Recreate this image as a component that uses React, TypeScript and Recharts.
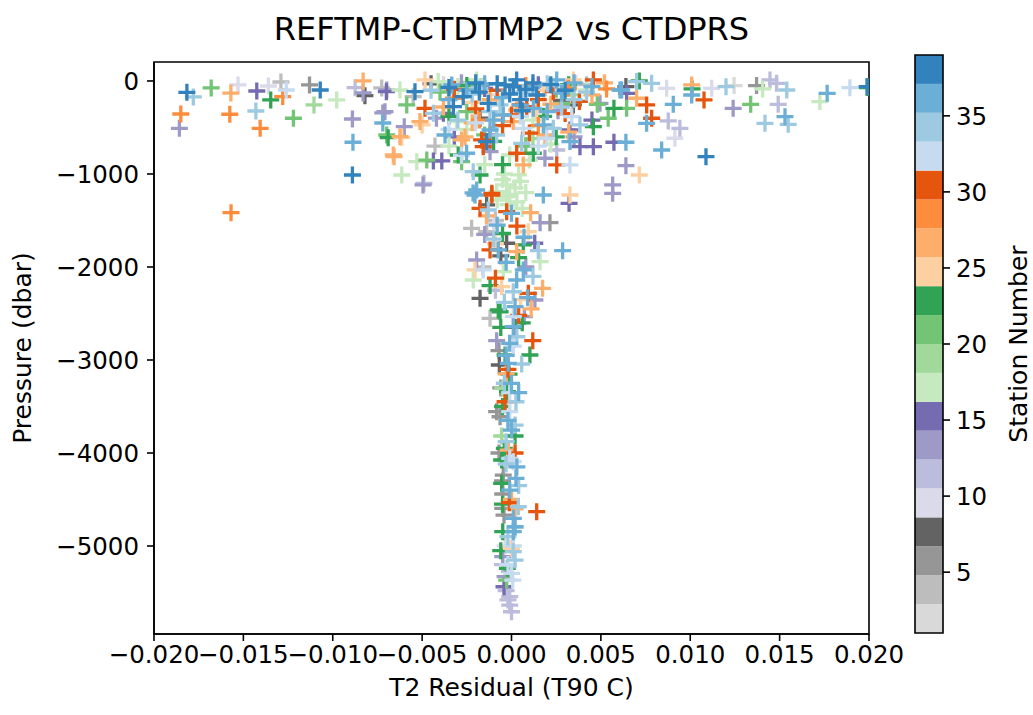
import React from 'react';
import { ScatterChart, Scatter, XAxis, YAxis, ReferenceArea, ComposedChart } from 'recharts';

// tab20c reversed colormap, station number range of the colour bar
const CMAP = ['#d9d9d9','#bdbdbd','#969696','#636363','#dadaeb','#bcbddc','#9e9ac8','#756bb1','#c7e9c0','#a1d99b','#74c476','#31a354','#fdd0a2','#fdae6b','#fd8d3c','#e6550d','#c6dbef','#9ecae1','#6baed6','#3182bd'];
const STATION_MIN = 1;
const STATION_MAX = 39;
const CB_TICKS = [5, 10, 15, 20, 25, 30, 35];
const X_TICKS = [-0.02, -0.015, -0.01, -0.005, 0, 0.005, 0.01, 0.015, 0.02];
const Y_TICKS = [0, -1000, -2000, -3000, -4000, -5000];

// [T2 residual (T90 C), pressure (dbar)] per station
const st02 = [[0.01245,-50],[0.0036,-25],[-0.0038,-40],[-0.0008,-150]];
const st04 = [[-0.0129,-11],[-0.00726,-75],[-0.00428,-700],[-0.00223,-1584],[-0.00139,-1620],[-0.0012,-2552],[-0.0055,-169],[0.0015,-150],[-0.0009,-1500],[0.0042,-40],[-0.0016,-2000]];
const st06 = [[-0.0113,-43],[0.01371,-50],[0.00215,-1523],[-0.00083,-3556],[-0.00064,-3610],[-0.00046,-4237],[-0.00049,-4441],[-0.00049,-4595],[-0.00042,-4667],[-0.0017,-60],[-0.0007,-2900],[-0.0006,-3300],[-0.0007,-4000],[-0.0005,-4300]];
const st08 = [[-0.0082,-158],[0.0064,-60],[0.00346,-258],[-0.00176,-401],[-0.00139,-1333],[-0.00027,-1745],[-0.00176,-2337],[-0.00068,-3054],[-0.0045,-30],[0.0028,-210],[-0.0006,-1880],[0.0002,-2650]];
const st10 = [[-0.0153,-43],[-0.0136,-54],[0.00868,-79],[0.0112,-79],[0.00914,-616],[-0.00036,-5000],[-0.001,-1530]];
const st12 = [[-0.00875,-72],[0.01446,11],[0.01483,-25],[0.01492,-251],[0.00877,-430],[0.00942,-509],[0.00253,-742],[-0.0001,-5545],[-0.0001,-5635],[0,-5707],[-0.0003,-5480],[-0.0049,-1100],[-0.0009,-2250],[-0.0005,-5200],[-0.0002,-5580]];
const st13 = [[-0.01858,-509],[-0.0083,-129],[-0.0072,-344],[-0.0089,-409],[-0.006,-491],[-0.00495,-1118],[0.0124,-294],[0.0064,-911],[0.00566,-1118],[0.00566,-1208],[0.00495,-240],[0.00187,-831],[0.0016,-1523],[-0.00195,-1925],[0.00131,-2355],[0.00072,-2534],[-0.00083,-2792],[-0.00049,-5115],[-0.00036,-5330],[-0.00698,-97],[-0.00708,-330],[-0.0028,-20],[0.0026,-320],[-0.0012,-760],[-0.0042,-400],[0.0035,-600],[-0.0015,-1650],[0.0008,-2000]];
const st15 = [[-0.01425,-108],[-0.007,-115],[-0.00437,-860],[-0.0039,-860],[-0.00381,-348],[0.00644,-133],[0.00327,-527],[0.00383,-706],[0.00458,-706],[0.00573,-659],[0.00322,-1315],[-0.00042,-5438],[0.0013,-1745],[-0.0015,-80],[0.0015,-40],[-0.0032,-600],[0.0045,-420]];
const st17 = [[-0.00978,-204],[-0.00614,-1011],[-0.0053,-868],[-0.00624,-97],[-0.0041,-7],[-0.00195,11],[0.01405,-86],[0.01725,-222],[0.0042,-97],[-0.00307,-437],[-0.0001,-796],[-0.00027,-1118],[-0.00083,-1190],[-0.00027,-1244],[0.0002,-1150],[-0.0005,-1060],[0.0003,-1300],[-0.00214,-2140],[-0.00046,-2050],[0.0016,-1943],[-0.0001,-1220],[-0.0004,-1000],[0.0006,-1370],[-0.003,-60],[0.0012,-420],[-0.0025,-520],[0.001,-850],[-0.0035,-700],[0.0022,-680],[-0.0015,-900],[0.0005,-1080],[-0.0008,-1280],[0.0008,-1200],[-0.0002,-1330],[0.0004,-1010]];
const st19 = [[-0.01105,-258],[-0.00049,-3304],[-0.00055,-3817],[0.0012,-620],[-0.0026,-90],[0.0034,-150]];
const st21 = [[-0.0168,-75],[-0.0122,-401],[0.01338,-251],[0.00644,-294],[0.00541,-401],[-0.00698,-581],[-0.00474,-850],[-0.00279,-868],[0.00281,-240],[-0.00586,-258],[-0.00027,-5366],[-0.004,-120],[0.0025,-90],[-0.0015,-580],[0.0008,-700],[-0.0025,-330],[0.0048,-250]];
const st23 = [[-0.01347,-204],[-0.0069,-610],[0.00715,0],[0.0101,-86],[0.00573,-294],[0.00458,-491],[0.00122,-777],[-0.00298,-796],[-0.00176,-1011],[0.00066,-1763],[-0.00074,-2462],[-0.00064,-2481],[0.00103,-2946],[-0.00036,-2946],[-0.00014,-3151],[-0.00023,-3341],[0.0002,-3817],[-0.00055,-4075],[-0.00055,-4326],[-0.00049,-4846],[-0.00023,-5240],[0.0199,-70],[-0.0025,-50],[0.0018,-380],[-0.001,-650],[0.0032,-40],[-0.0035,-380],[0.0025,-600],[-0.0005,-900],[-0.0005,-1640],[0.0004,-1900],[-0.0012,-2200],[0.0006,-2600],[-0.0006,-2650],[-0.0005,-3500],[-0.0004,-3950],[-0.0005,-4550],[-0.0006,-5050]];
const st25 = [[-0.00484,11],[-0.00614,-606],[-0.005,-473],[0.00141,-330],[-0.00092,-419],[0.00715,-1011],[0.00327,-1226],[-0.00204,-2032],[0.00094,-1620],[-0.00055,-2212],[0,-5025],[0.00346,11],[0.0018,-100],[-0.0022,-230],[-0.0009,-1750],[0.0005,-2350]];
const st27 = [[-0.0157,-130],[-0.0083,0],[-0.00657,-814],[-0.0026,-602],[-0.00624,-599],[-0.00661,-796],[0.007,-186],[0.01008,-43],[0.00187,-581],[0.0001,-437],[0.00066,-903],[0.00029,-312],[-0.00512,-437],[-0.00279,-634],[0.00107,-1416],[0.00029,-1835],[0.00174,-2229],[-0.00018,-3968],[0,-4498],[-0.0012,-200],[0.0022,-250],[-0.0038,-280],[0.0045,-150],[-0.0022,-450],[0.0032,-550],[0.0052,-20],[-0.0014,-1450],[0.0011,-2450],[-0.0003,-3150],[0.0002,-4600]];
const st29 = [[-0.0185,-355],[-0.01576,-358],[-0.01406,-509],[-0.01569,-1416],[-0.0128,-168],[0.00532,-86],[0.00318,-79],[-0.00325,-186],[-0.0018,-420],[0.0015,-480],[0.0008,-50]];
const st31 = [[0.01077,-204],[0.00756,-258],[0.00784,-401],[0.00458,11],[0.00234,-115],[0.00085,-276],[0.00048,-258],[0.00253,-903],[-0.00158,-706],[-0.00167,-634],[0.00029,-777],[-0.00484,-294],[0,-366],[-0.0011,-1208],[-0.0011,-1226],[-0.00176,-1369],[-0.00027,-1405],[-0.0012,-1817],[0.00094,-2283],[0.00119,-2792],[-0.00036,-3449],[-0.00012,-4534],[0.00141,-4631],[-0.0008,-100],[0.0015,-200],[-0.002,-300],[0.003,-350],[-0.0005,-480],[0.001,-560],[-0.0032,-90],[0.0038,-220],[-0.0012,-580],[0.0003,-1560],[-0.0009,-2120],[0.0004,-2520],[-0.0002,-3100],[0.0002,-4000]];
const st32 = [[-0.0126,-97],[0.01893,-72],[0.00337,-384],[0.00197,-616],[0.00066,-509],[0.00327,-903],[-0.00158,-2032],[0.0001,-2534],[-0.0001,-3556],[-0.0001,-4057],[0.0001,-4093],[0,-5294],[0.00007,-5366],[-0.002,-450],[0.0005,-380],[-0.0035,-520],[0.0015,-700],[-0.0028,-800],[0.0025,-50],[0.0001,-2850],[-0.0001,-3350],[0.0002,-4800],[-0.0002,-5200],[0.0001,-5000]];
const st34 = [[-0.0178,-172],[-0.0143,-323],[0.00784,-25],[0.012,-61],[0.0154,-97],[0.01418,-455],[0.01548,-466],[-0.00176,-79],[0.007,-7],[0.00383,-473],[0.00234,-509],[-0.00437,-348],[-0.00083,-581],[0.00057,-670],[-0.00214,-975],[-0.00064,-258],[-0.0013,-1387],[0.0015,-1825],[0.0001,-2266],[0.00057,-3043],[0.00025,-3449],[-0.0003,-3878],[-0.0003,-4118],[0.00038,-4578],[0.0001,-5061],[0.0002,-5151],[-0.0022,-140],[0.0006,-120],[0.0035,-200],[-0.0045,-100],[0.002,-30],[-0.0012,-330],[0.0028,-280],[-0.003,-420],[0.0042,-120],[-0.001,-1700],[0.0012,-2100],[-0.0004,-2380],[0.0003,-2750],[-0.0004,-3250],[0.0002,-3700],[0.0004,-4350],[-0.0002,-4900]];
const st36 = [[-0.00887,-659],[-0.0072,-452],[-0.00372,-581],[-0.00215,-1204],[0.00616,-97],[0.01008,-151],[0.01766,-133],[0.00905,-251],[0.0153,-384],[0.00756,-455],[0.0064,-659],[0.0084,-742],[-0.00334,-43],[0.00253,11],[0.00607,-97],[0.00327,-652],[0.00178,-473],[-0.00251,-777],[-0.0012,-527],[0.00122,-294],[-0.00046,-366],[-0.00204,-1226],[0.00178,-1226],[0,-1423],[-0.00074,-1817],[0.00286,-1825],[0.00066,-2032],[0.00029,-2140],[0.0002,-2427],[0.0001,-2642],[-0.0001,-2821],[-0.00018,-3036],[0,-3251],[0,-3753],[0.00025,-4272],[0.0001,-4702],[0.0002,-4793],[0.0001,-4846],[-0.00195,-1172],[-0.0015,-30],[0.0012,-60],[-0.0005,-180],[0.0028,-130],[-0.0035,-200],[0.0045,-60],[0.0035,-20],[-0.0025,-100],[0.0005,-260],[-0.001,-420],[0.002,-330],[-0.0008,-1550],[0.0007,-1680],[-0.0003,-1950],[0.0009,-2330],[-0.0003,-2950],[0.0004,-3350],[-0.0002,-3650],[0.0003,-4150],[-0.0001,-4400]];
const st38 = [[-0.01816,-122],[-0.0107,-97],[-0.0089,-1011],[0.01088,-814],[0.0199,-60],[-0.0054,-115],[-0.0027,-169],[0.00029,11],[0.0001,-61],[-0.00036,-43],[-0.0013,-240],[-0.00325,-276],[0.00141,-151],[-0.00139,-652],[-0.0008,-30],[0.0008,-90],[-0.0018,-120],[0.0005,-200],[0.0022,-40],[-0.0001,-140],[-0.0035,-70],[0.003,-100],[0.0012,-20],[-0.002,-20],[0.0006,-320]];

const STATIONS = [
  { station: 2, pts: st02 }, { station: 4, pts: st04 }, { station: 6, pts: st06 }, { station: 8, pts: st08 },
  { station: 10, pts: st10 }, { station: 12, pts: st12 }, { station: 13, pts: st13 }, { station: 15, pts: st15 },
  { station: 17, pts: st17 }, { station: 19, pts: st19 }, { station: 21, pts: st21 }, { station: 23, pts: st23 },
  { station: 25, pts: st25 }, { station: 27, pts: st27 }, { station: 29, pts: st29 }, { station: 31, pts: st31 },
  { station: 32, pts: st32 }, { station: 34, pts: st34 }, { station: 36, pts: st36 }, { station: 38, pts: st38 },
];

const colorFor = (s: number) => {
  const n = CMAP.length;
  let i = Math.floor(((s - STATION_MIN) / (STATION_MAX - STATION_MIN)) * n);
  i = Math.max(0, Math.min(n - 1, i));
  return CMAP[i];
};

const BANDS = CMAP.map((c, i) => ({
  lo: STATION_MIN + (i * (STATION_MAX - STATION_MIN)) / CMAP.length,
  hi: STATION_MIN + ((i + 1) * (STATION_MAX - STATION_MIN)) / CMAP.length,
  color: c,
}));

const FONT = 'DejaVu Sans, sans-serif';
const TICK_FS = 24.5;
const LABEL_FS = 25;

const fmtX = (v: number) => (Math.abs(v) < 1e-12 ? '0.000' : (v < 0 ? '\u2212' : '') + Math.abs(v).toFixed(3));
const fmtY = (v: number) => (v === 0 ? '0' : (v < 0 ? '\u2212' : '') + Math.abs(v));

const Plus = (props: any) => {
  const { cx, cy, fill } = props;
  if (cx == null || cy == null) return null;
  const h = 8.5;
  return <path d={`M${cx - h},${cy}H${cx + h}M${cx},${cy - h}V${cy + h}`} stroke={fill} strokeWidth={3.3} fill="none" />;
};

export default function App() {
  const W = 1033, H = 715;
  const plotL = 154, plotR = 869, plotT = 62, plotB = 634;
  const Y_DOMAIN = [-5946, 204];
  return (
    <div style={{ position: 'absolute', left: 0, top: 0, width: W, height: H, background: '#fff', fontFamily: FONT }}>
      <ScatterChart width={W} height={H} margin={{ top: plotT, right: W - plotR, bottom: H - plotB - 60, left: plotL - 90 }}>
        <XAxis type="number" dataKey="x" domain={[-0.02, 0.02]} ticks={X_TICKS} tickFormatter={fmtX} interval={0}
          allowDataOverflow height={60} tickSize={7} tickMargin={5}
          axisLine={{ stroke: '#000', strokeWidth: 1.6 }} tickLine={{ stroke: '#000', strokeWidth: 1.6 }}
          tick={{ fill: '#000', fontSize: TICK_FS, fontFamily: FONT }} />
        <YAxis type="number" dataKey="y" domain={Y_DOMAIN} ticks={Y_TICKS} tickFormatter={fmtY} interval={0}
          allowDataOverflow width={90} tickSize={7} tickMargin={8}
          axisLine={{ stroke: '#000', strokeWidth: 1.6 }} tickLine={{ stroke: '#000', strokeWidth: 1.6 }}
          tick={{ fill: '#000', fontSize: TICK_FS, fontFamily: FONT }} />
        {STATIONS.map((s) => (
          <Scatter key={s.station} data={s.pts.map(([x, y]) => ({ x, y }))} fill={colorFor(s.station)}
            shape={<Plus />} isAnimationActive={false} />
        ))}
        <ReferenceArea x1={-0.02} x2={0.02} y1={Y_DOMAIN[0]} y2={Y_DOMAIN[1]} fill="none" fillOpacity={0}
          stroke="#000" strokeWidth={1.6} ifOverflow="visible" />
      </ScatterChart>

      <div style={{ position: 'absolute', left: 0, top: 0 }}>
        <ComposedChart width={W} height={H} data={[{ x: 0 }, { x: 1 }]}
          margin={{ top: 55, right: W - 943 - 80, bottom: H - 633, left: 915 }}>
          <XAxis type="number" dataKey="x" domain={[0, 1]} hide />
          <YAxis type="number" orientation="right" domain={[STATION_MIN, STATION_MAX]} ticks={CB_TICKS} interval={0}
            allowDataOverflow width={80} tickSize={7} tickMargin={6}
            axisLine={false} tickLine={{ stroke: '#000', strokeWidth: 1.6 }}
            tick={{ fill: '#000', fontSize: TICK_FS, fontFamily: FONT, textAnchor: 'start' }} />
          {BANDS.map((b, i) => (
            <ReferenceArea key={i} x1={0} x2={1} y1={b.lo} y2={b.hi} fill={b.color} fillOpacity={1} stroke="none" ifOverflow="visible" />
          ))}
          <ReferenceArea x1={0} x2={1} y1={STATION_MIN} y2={STATION_MAX} fill="none" fillOpacity={0} stroke="#000" strokeWidth={1.6} ifOverflow="visible" />
        </ComposedChart>
      </div>

      <div style={{ position: 'absolute', left: plotL, width: plotR - plotL, top: 10, textAlign: 'center', fontSize: 32, color: '#000', whiteSpace: 'nowrap' }}>
        REFTMP-CTDTMP2 vs CTDPRS
      </div>
      <div style={{ position: 'absolute', left: plotL, width: plotR - plotL, top: 673, textAlign: 'center', fontSize: LABEL_FS, color: '#000', whiteSpace: 'nowrap' }}>
        T2 Residual (T90 C)
      </div>
      <div style={{ position: 'absolute', left: 22, top: (plotT + plotB) / 2, transform: 'translate(-50%, -50%) rotate(-90deg)', fontSize: LABEL_FS, color: '#000', whiteSpace: 'nowrap' }}>
        Pressure (dbar)
      </div>
      <div style={{ position: 'absolute', left: 1018, top: 344, transform: 'translate(-50%, -50%) rotate(-90deg)', fontSize: LABEL_FS, color: '#000', whiteSpace: 'nowrap' }}>
        Station Number
      </div>
    </div>
  );
}
